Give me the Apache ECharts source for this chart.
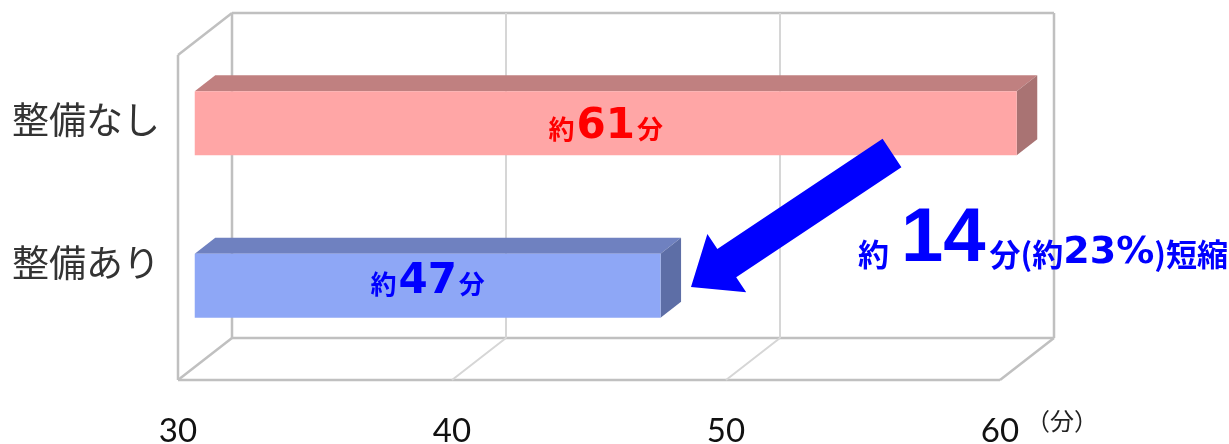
<!DOCTYPE html>
<html>
<head>
<meta charset="utf-8">
<script src="https://cdn.jsdelivr.net/npm/echarts@6/dist/echarts.min.js"></script>
<style>
	html, body { margin: 0; padding: 0; background: #fff; }
	#chart { width: 1229px; height: 444px; }
</style>
</head>
<body>
<div id="chart"></div>
<script>
// data
const categories = ['整備なし', '整備あり'];
const minutes = [61, 47];
const xTicks = [30, 40, 50, 60];
const unitName = '（分）';

const xMin = xTicks[0];
const xMax = xTicks[xTicks.length - 1];

// pseudo 3D depth (px) of the plot box
const DX = 54, DY = -42;
const JP = '"Noto Sans CJK JP", sans-serif';
const NUM = '"DejaVu Sans", sans-serif';

const barColors = [
	['#ffa6a6', '#c08080', '#a97373'],
	['#8ea7f6', '#6f81c0', '#5d6ea6']
];
const labelColors = ['#ff0000', '#0000ff'];
const labelShift = [4, -4];
const frameStyle = { stroke: '#c0c0c0', lineWidth: 2.5 };
const gridStyle = { stroke: '#d6d6d6', lineWidth: 2 };

function line(x1, y1, x2, y2, style) {
	return { type: 'line', shape: { x1, y1, x2, y2 }, style };
}

function renderFrame(params, api) {
	const cs = params.coordSys;
	const x = api.coord([api.value(0), 0])[0];
	const top = cs.y, bottom = cs.y + cs.height;
	const edge = params.dataIndex === 0 || params.dataIndex === xTicks.length - 1;
	const st = edge ? frameStyle : gridStyle;
	const children = [
		line(x + DX, top + DY, x + DX, bottom + DY, st),
		line(x, bottom, x + DX, bottom + DY, st)
	];
	if (params.dataIndex === 0) {
		children.push(
			line(x, top, x, bottom, frameStyle),
			line(x, top, x + DX, top + DY, frameStyle),
			line(cs.x + DX, top + DY, cs.x + cs.width + DX, top + DY, frameStyle),
			line(cs.x + DX, bottom + DY, cs.x + cs.width + DX, bottom + DY, frameStyle),
			line(cs.x, bottom, cs.x + cs.width, bottom, frameStyle)
		);
	}
	return { type: 'group', children };
}

function renderBar(params, api) {
	const idx = params.dataIndex;
	const cat = api.value(1);
	const v = Math.min(api.value(0), xMax);
	const start = api.coord([xMin, cat]);
	const end = api.coord([v, cat]);
	const h = api.size([0, 1])[1] * 0.395;
	const colors = barColors[idx];
	const fx = DX * 0.31, fy = DY * 0.31;
	const dx = DX * 0.38, dy = DY * 0.38;
	const xl = start[0] + fx, xr = end[0] + fx;
	const yt = start[1] + fy - h / 2, yb = start[1] + fy + h / 2;
	const c = labelColors[idx];
	return {
		type: 'group',
		children: [
			{ type: 'polygon', shape: { points: [[xl, yt], [xr, yt], [xr + dx, yt + dy], [xl + dx, yt + dy]] }, style: { fill: colors[1] } },
			{ type: 'polygon', shape: { points: [[xr, yt], [xr + dx, yt + dy], [xr + dx, yb + dy], [xr, yb]] }, style: { fill: colors[2] } },
			{ type: 'rect', shape: { x: xl, y: yt, width: xr - xl, height: yb - yt }, style: { fill: colors[0] } },
			{
				type: 'text',
				x: (xl + xr) / 2,
				y: (yt + yb) / 2 + labelShift[idx],
				style: {
					text: '{s|約}{b|' + api.value(0) + '}{s|分}',
					align: 'center',
					verticalAlign: 'middle',
					rich: {
						s: { fontFamily: JP, fontSize: 26, fontWeight: 'bold', fill: c, verticalAlign: 'bottom', padding: [0, 0, 6, 0] },
						b: { fontFamily: NUM, fontSize: 42, fontWeight: 'bold', fill: c, verticalAlign: 'bottom', padding: [0, 2, 0, 2] }
					}
				}
			}
		]
	};
}

function arrowPoints(tail, tip, shaftHalf, headHalf, headLen) {
	const vx = tip[0] - tail[0], vy = tip[1] - tail[1];
	const len = Math.sqrt(vx * vx + vy * vy);
	const ux = vx / len, uy = vy / len;
	const nx = -uy, ny = ux;
	const bx = tip[0] - ux * headLen, by = tip[1] - uy * headLen;
	return [
		[tail[0] + nx * shaftHalf, tail[1] + ny * shaftHalf],
		[bx + nx * shaftHalf, by + ny * shaftHalf],
		[bx + nx * headHalf, by + ny * headHalf],
		tip,
		[bx - nx * headHalf, by - ny * headHalf],
		[bx - nx * shaftHalf, by - ny * shaftHalf],
		[tail[0] - nx * shaftHalf, tail[1] - ny * shaftHalf]
	];
}

const saved = minutes[0] - minutes[1];
const savedPct = Math.round(saved / minutes[0] * 100);

const chart = echarts.init(document.getElementById('chart'));
chart.setOption({
	animation: false,
	grid: { left: 178, right: 229, top: 55, bottom: 64, outerBoundsMode: 'none', containLabel: false },
	xAxis: {
		type: 'value',
		min: xMin,
		max: xMax,
		interval: 10,
		axisLine: { show: false },
		axisTick: { show: false },
		splitLine: { show: false },
		axisLabel: { fontFamily: 'Lato, sans-serif', fontSize: 33, color: '#111', margin: 35 },
		name: unitName,
		nameLocation: 'end',
		nameGap: 26,
		nameTextStyle: { fontFamily: JP, fontSize: 24, color: '#222', verticalAlign: 'top', lineHeight: 82 }
	},
	yAxis: {
		type: 'category',
		data: categories,
		inverse: true,
		axisLine: { show: false },
		axisTick: { show: false },
		splitLine: { show: false },
		axisLabel: {
			margin: 18,
			formatter: (value, index) => (index === 0 ? '{a|' : '{b|') + value + '}',
			rich: {
				a: { fontFamily: JP, fontSize: 37, color: '#333', padding: [0, 0, 32, 0] },
				b: { fontFamily: JP, fontSize: 37, color: '#333', padding: [0, 0, 72, 0] }
			}
		}
	},
	series: [
		{
			type: 'custom',
			renderItem: renderFrame,
			clip: false,
			silent: true,
			z: 1,
			data: xTicks.map(t => [t, 0])
		},
		{
			type: 'custom',
			renderItem: renderBar,
			clip: false,
			z: 2,
			data: minutes.map((m, i) => [m, i])
		}
	],
	graphic: [
		{
			type: 'polygon',
			z: 10,
			shape: { points: arrowPoints([892, 153], [691, 287], 17, 35, 43) },
			style: { fill: '#0000ff' }
		},
		{
			type: 'text',
			z: 10,
			x: 858,
			y: 278,
			style: {
				text: '{s|約}{b|' + saved + '}{s|分(約}{d|' + savedPct + '%}{s|)短縮}',
				verticalAlign: 'bottom',
				rich: {
					s: { fontFamily: JP, fontSize: 31, fontWeight: 'bold', fill: '#0000ff', verticalAlign: 'bottom', padding: [0, 0, 8, 0] },
					d: { fontFamily: NUM, fontSize: 38, fontWeight: 'bold', fill: '#0000ff', verticalAlign: 'bottom', padding: [0, 0, 6, 0] },
					b: { fontFamily: '"Liberation Sans", sans-serif', fontSize: 76, fontWeight: 'bold', fill: '#0000ff', verticalAlign: 'bottom', padding: [0, 4, 0, 12] }
				}
			}
		}
	]
});
</script>
</body>
</html>
